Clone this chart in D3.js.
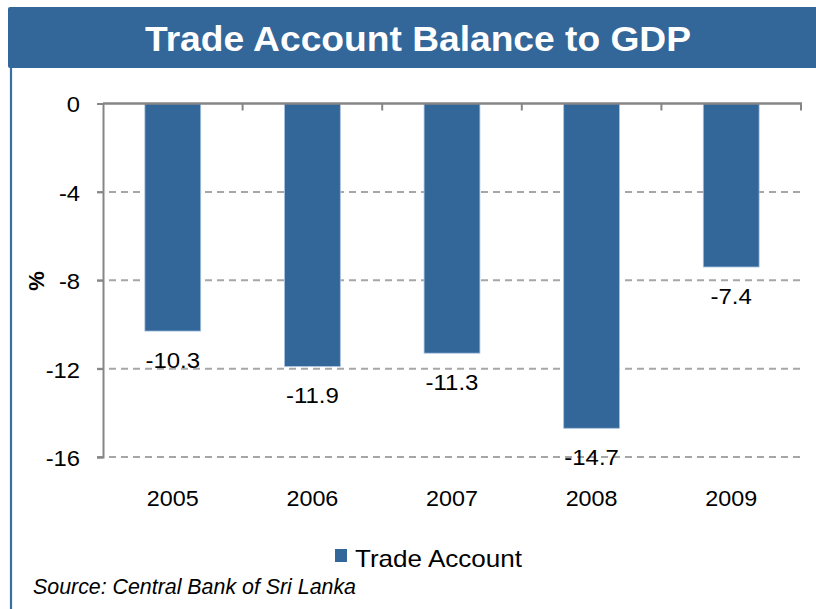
<!DOCTYPE html>
<html>
<head>
<meta charset="utf-8">
<script src="https://cdn.jsdelivr.net/npm/d3@7"></script>
<style>
  html, body { margin: 0; padding: 0; background: #fff; }
  svg { display: block; font-family: "Liberation Sans", Arial, sans-serif; }
</style>
</head>
<body>
<svg id="chart" width="816" height="609"></svg>
<script>
// Trade account balance as a share of GDP (%), Sri Lanka
const years = ["2005", "2006", "2007", "2008", "2009"];
const tradeAccount = [-10.3, -11.9, -11.3, -14.7, -7.4];
const yTicks = [0, -4, -8, -12, -16];
const titleText = "Trade Account Balance to GDP";
const seriesName = "Trade Account";
const sourceText = "Source: Central Bank of Sri Lanka";

const blue = "#336699";
const svg = d3.select("#chart");

// widen a text run slightly, keeping its anchor
function widen(sel, k) {
  sel.each(function () {
    const w = this.getComputedTextLength();
    d3.select(this).attr("textLength", w * k).attr("lengthAdjust", "spacingAndGlyphs");
  });
}

// header band and left frame rule
svg.append("rect")
  .attr("x", 8).attr("y", 7).attr("width", 820).attr("height", 61)
  .attr("rx", 2).attr("fill", blue);
svg.append("line")
  .attr("x1", 11).attr("x2", 11).attr("y1", 68).attr("y2", 609)
  .attr("stroke", "#3c6ea6").attr("stroke-width", 2.2);

svg.append("text")
  .attr("x", 145).attr("y", 51)
  .attr("font-size", 35).attr("font-weight", "bold").attr("fill", "#fff")
  .attr("textLength", 546).attr("lengthAdjust", "spacingAndGlyphs")
  .text(titleText);

// scales
const x = d3.scaleBand().domain(years).range([103, 801])
  .paddingInner(0.6).paddingOuter(0.3);
const y = d3.scaleLinear().domain([-16, 0]).range([457, 103.5]);

// dashed gridlines
svg.append("g").selectAll("line")
  .data(yTicks.filter(t => t !== 0))
  .join("line")
  .attr("x1", 97).attr("x2", 802)
  .attr("y1", d => y(d)).attr("y2", d => y(d))
  .attr("stroke", "#a6a6a6").attr("stroke-width", 2)
  .attr("stroke-dasharray", "7,5");

// y axis
const yAxis = svg.append("g")
  .attr("transform", "translate(103,0)")
  .call(d3.axisLeft(y).tickValues(yTicks).tickSize(6).tickPadding(17)
    .tickFormat(d => String(d)));
yAxis.select(".domain").attr("stroke", "#868686").attr("stroke-width", 2);
yAxis.selectAll(".tick line").attr("stroke", "#868686").attr("stroke-width", 2);
yAxis.selectAll(".tick text")
  .attr("font-size", 22).attr("fill", "#000").attr("dy", "0.38em")
  .attr("font-family", "Liberation Sans, Arial, sans-serif")
  .call(widen, 1.08);

// bars
svg.append("g").selectAll("rect")
  .data(years.map((yr, i) => ({ yr, v: tradeAccount[i] })))
  .join("rect")
  .attr("x", d => x(d.yr))
  .attr("y", y(0))
  .attr("width", x.bandwidth())
  .attr("height", d => y(d.v) - y(0))
  .attr("fill", blue)
  .attr("stroke", "#a9c3e0").attr("stroke-width", 0.8);

// zero line with category ticks hanging below it
const xAxis = svg.append("g")
  .attr("transform", `translate(0,${y(0)})`)
  .call(d3.axisBottom(x).tickSize(0).tickFormat(""));
xAxis.select(".domain").attr("stroke", "#868686").attr("stroke-width", 2.6)
  .attr("d", `M103,0H802`);
svg.append("g").selectAll("line")
  .data(years)
  .join("line")
  .attr("x1", d => x(d) + x.bandwidth() / 2 + x.step() / 2)
  .attr("x2", d => x(d) + x.bandwidth() / 2 + x.step() / 2)
  .attr("y1", y(0)).attr("y2", y(0) + 7)
  .attr("stroke", "#868686").attr("stroke-width", 2);

// category labels
svg.append("g").selectAll("text")
  .data(years)
  .join("text")
  .attr("x", d => x(d) + x.bandwidth() / 2)
  .attr("y", 506)
  .attr("text-anchor", "middle")
  .attr("font-size", 22)
  .text(d => d)
  .call(widen, 1.06);

// value labels below each bar end
svg.append("g").selectAll("text")
  .data(tradeAccount)
  .join("text")
  .attr("x", (d, i) => x(years[i]) + x.bandwidth() / 2)
  .attr("y", d => y(d) + 37)
  .attr("text-anchor", "middle")
  .attr("font-size", 22)
  .text(d => d.toFixed(1))
  .call(widen, 1.09);

// axis title
svg.append("text")
  .attr("transform", "translate(44,281) rotate(-90)")
  .attr("text-anchor", "middle")
  .attr("font-size", 22).attr("font-weight", "bold")
  .text("%");

// legend
svg.append("rect")
  .attr("x", 335).attr("y", 549).attr("width", 12).attr("height", 13)
  .attr("fill", blue);
svg.append("text")
  .attr("x", 355).attr("y", 567)
  .attr("font-size", 24)
  .attr("textLength", 167).attr("lengthAdjust", "spacingAndGlyphs")
  .text(seriesName);

// source note
svg.append("text")
  .attr("x", 33).attr("y", 594)
  .attr("font-size", 21.5).attr("font-style", "italic")
  .attr("textLength", 323).attr("lengthAdjust", "spacingAndGlyphs")
  .text(sourceText);
</script>
</body>
</html>
